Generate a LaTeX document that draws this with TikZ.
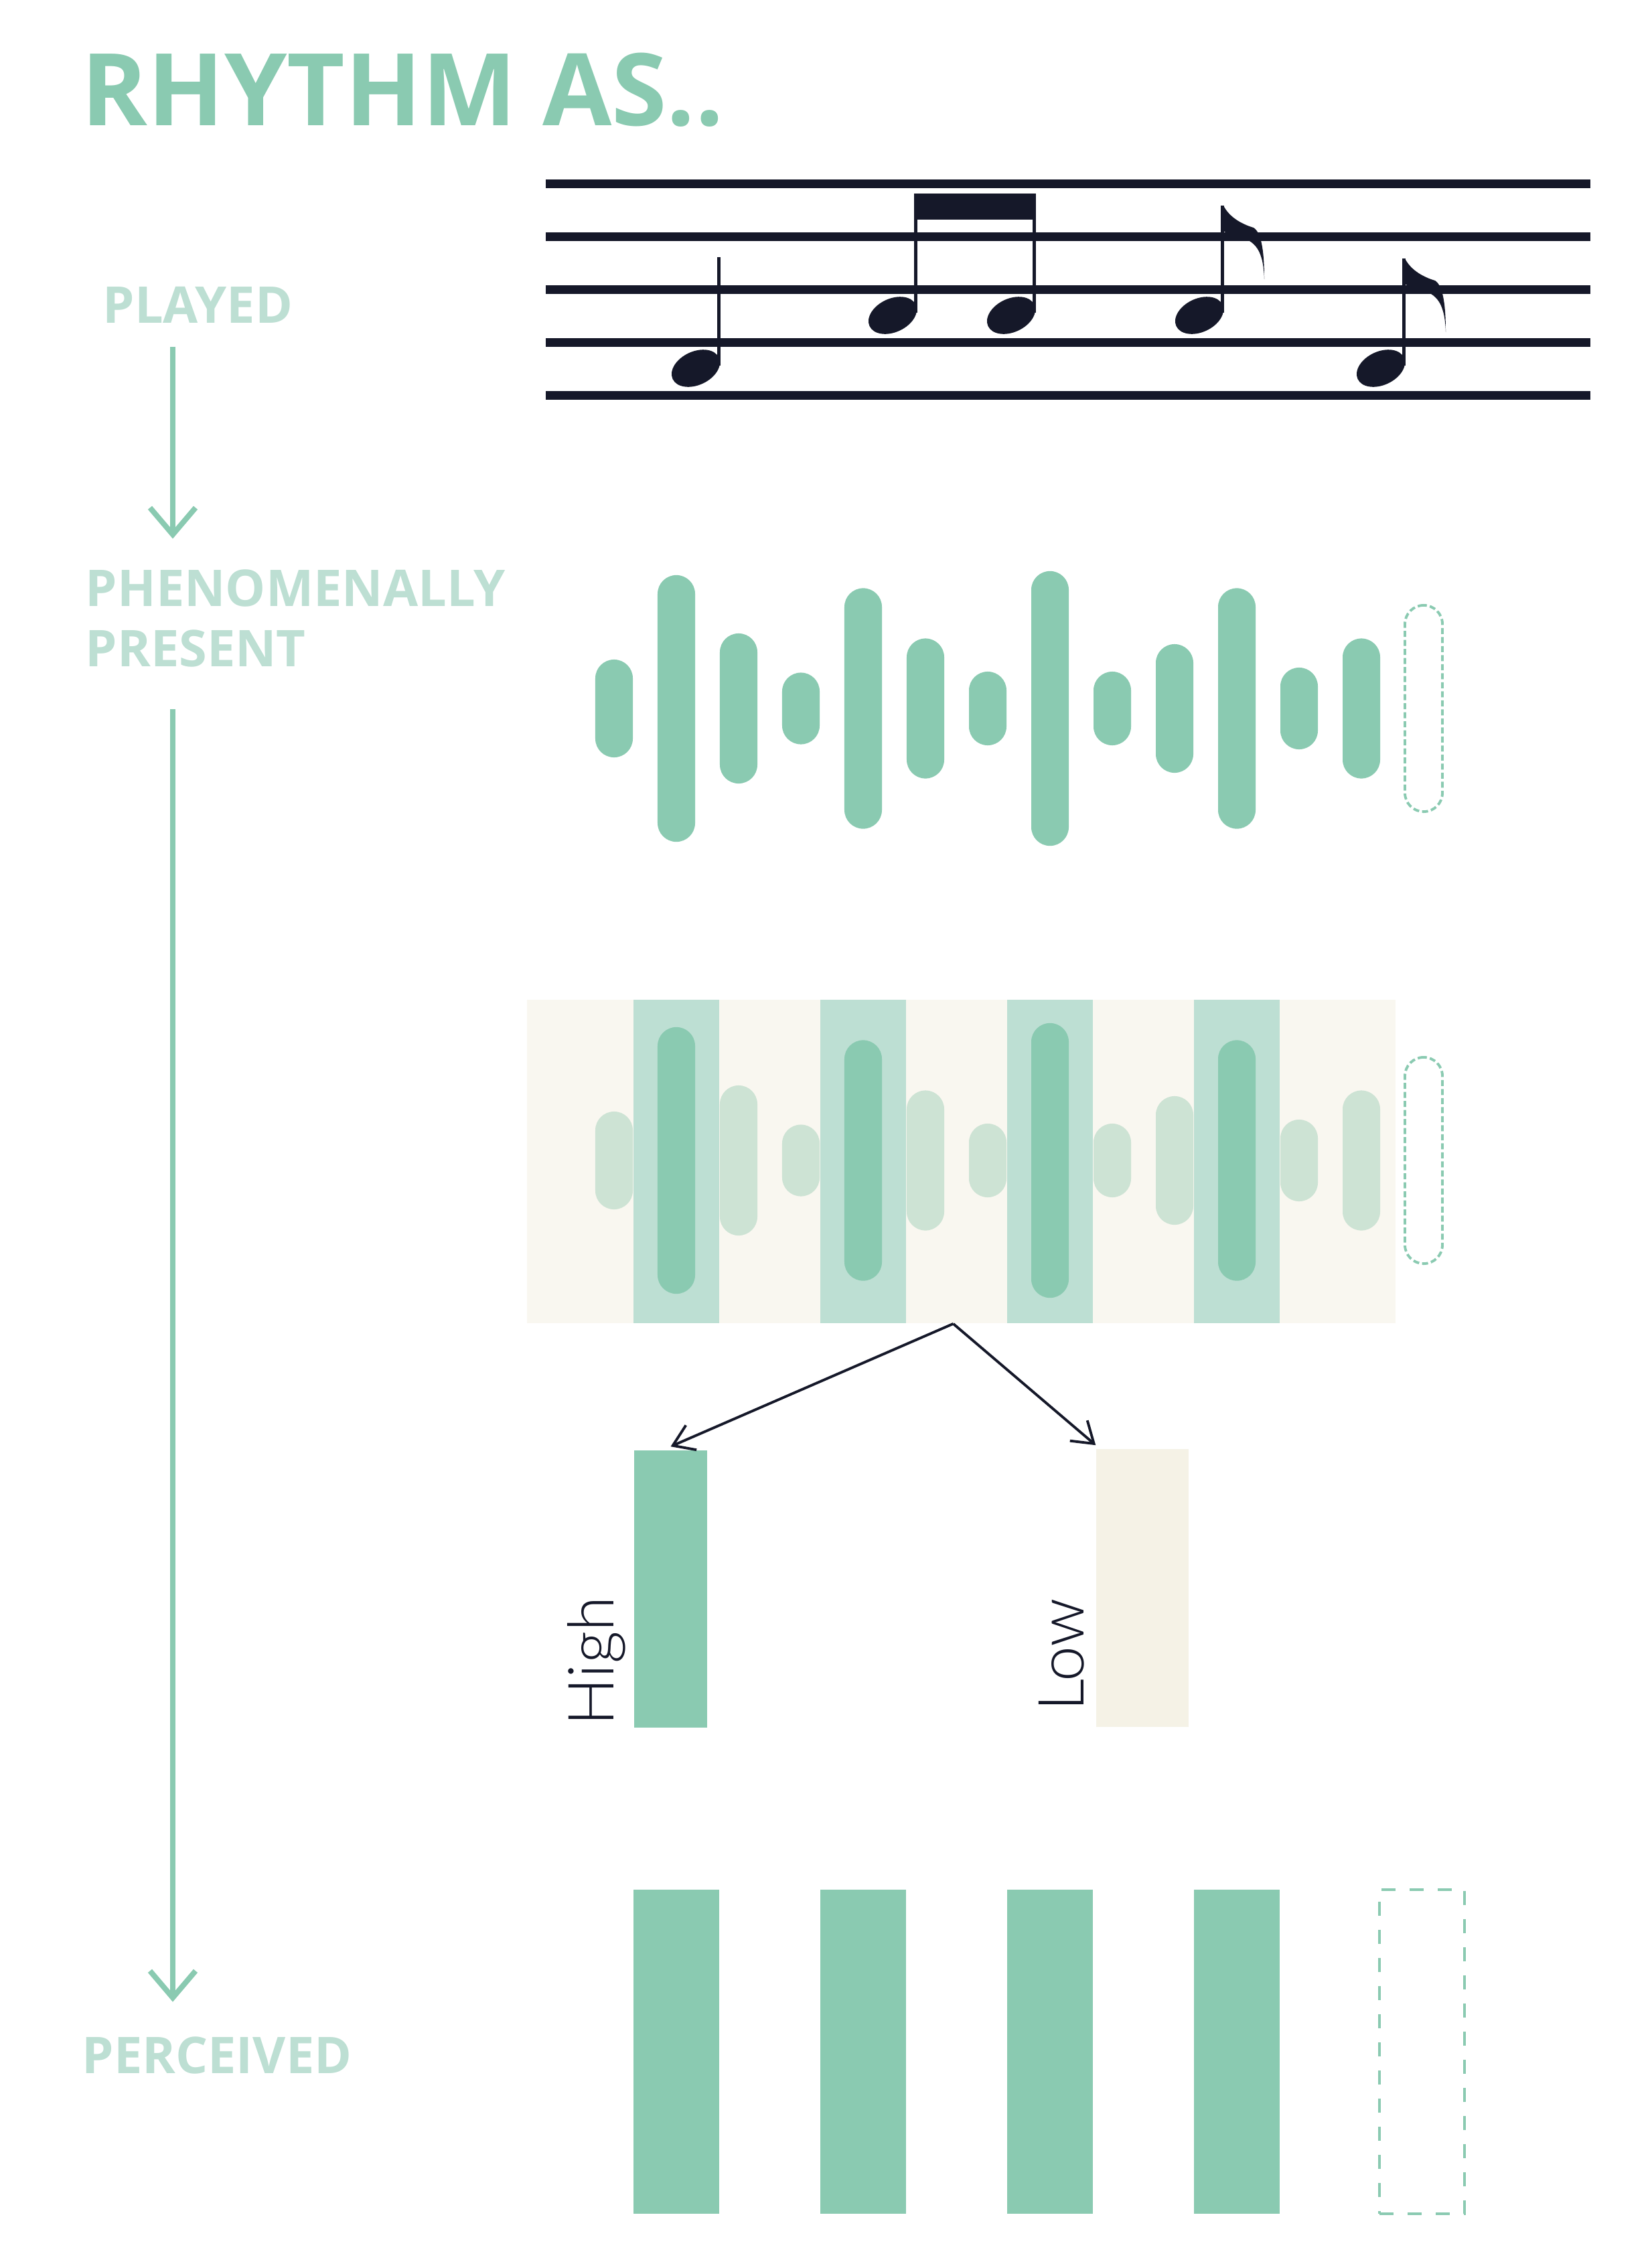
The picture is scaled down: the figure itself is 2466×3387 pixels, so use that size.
\documentclass[tikz,border=0pt]{standalone}
\usepackage{fontspec}
\setmainfont{Open Sans}
\IfFontExistsTF{Lato Light}{\newfontfamily\thinfont{Lato Light}}{\newfontfamily\thinfont{Lato}}
\usetikzlibrary{positioning,arrows.meta,calc,shapes.geometric}
\definecolor{mint}{HTML}{8ACAB1}
\definecolor{mintlt}{HTML}{BDDFD3}
\definecolor{mintpale}{HTML}{CDE3D4}
\definecolor{cream}{HTML}{F9F7F0}
\definecolor{creamdk}{HTML}{F5F2E6}
\definecolor{ink}{HTML}{151829}
\tikzset{noteflag/.pic={\fill[ink] (0,0) .. controls (8,16) and (25,27) .. (45,33)
 .. controls (56,40) and (61,65) .. (61,110) .. controls (60,80) and (54,62) .. (39,53)
 .. controls (25,48) and (10,45) .. (0,38) -- cycle;}}
\begin{document}
\begin{tikzpicture}[x=0.01cm,y=-0.01cm,
head/.style={font=\fontsize{42.6}{50}\selectfont\bfseries,text=mint,inner sep=0pt,anchor=base west},
tag/.style={font=\fontsize{21.5}{26}\selectfont\bfseries,text=mintlt,inner sep=0pt,anchor=base west},
flow/.style={draw=mint,line width=2.3pt,-{Straight Barb[length=0.4cm,width=0.68cm]}},
pick/.style={draw=ink,line width=1.1pt,-{Straight Barb[length=0.3cm,width=0.4cm]}},
wavebar/.style={fill=mint,minimum width=0.56cm,rounded corners=0.28cm,inner sep=0pt},
barlt/.style={wavebar,fill=mintpale},
ghost/.style={draw=mint,dash pattern=on 0.09cm off 0.045cm,line width=1.1pt,minimum width=0.56cm,rounded corners=0.28cm,inner sep=0pt},
col/.style={fill=mintlt,minimum width=1.27cm,minimum height=4.83cm,inner sep=0pt},
block/.style={minimum width=1.27cm,minimum height=4.84cm,inner sep=0pt},
word/.style={font=\thinfont\fontsize{27}{30}\selectfont,text=ink,inner sep=0pt,rotate=90,anchor=base west},
notehead/.style={ellipse,fill=ink,minimum width=0.76cm,minimum height=0.5cm,inner sep=0pt,rotate=25},
staff/.style={ink,line width=0.13cm},
stem/.style={ink,line width=0.05cm}]
\useasboundingbox (0,0) rectangle (2466,3387);

\node[head] (title) at (121,187) {RHYTHM AS..};
\node[tag] (played) at (153,482) {PLAYED};
\node[tag] (phen) at (127,905) {PHENOMENALLY};
\node[tag] (present) at (127,995) {PRESENT};
\node[tag] (perceived) at (122,3096) {PERCEIVED};
\coordinate (axis) at (258,0);
\draw[flow] ($(played.south -| axis)+(0,35)$) -- ($(phen.north -| axis)+(0,-45)$);
\draw[flow] ($(present.south -| axis)+(0,63)$) -- ($(perceived.north -| axis)+(0,-51)$);

\foreach \k in {0,...,4}
 \draw[staff] (815,274+79*\k) -- (2375,274+79*\k);
\foreach \x/\y/\t [count=\n] in {1039/550/384,1333/471/289,1510/471/289,1791/471/307,2062/550/386}
 {\node[notehead] (n\n) at (\x,\y) {};
 \draw[stem] (\x+34,\y-4) -- (\x+34,\t);}
\fill[ink] (1365,289) rectangle (1547,328);
\path (1827,307) pic {noteflag} (2098,386) pic {noteflag};

\foreach \h [count=\i] in {73,199,112,53.5,179.5,104.5,55,205,55,96,179.5,61,104.5}
 \node[wavebar,minimum height=\h*0.02cm] (w\i) at (917+93*\i-93,1058) {};
\node[ghost,minimum height=3.08cm] (w14) at (2126,1058) {};

\node[fill=cream,minimum width=12.97cm,minimum height=4.83cm,inner sep=0pt] (band) at (1435.5,1734.5) {};
\foreach \i in {2,5,8,11}
 \node[col] (c\i) at (917+93*\i-93,1734.5) {};
\foreach \h/\s [count=\i] in {73/barlt,199/wavebar,112/barlt,53.5/barlt,179.5/wavebar,104.5/barlt,55/barlt,205/wavebar,55/barlt,96/barlt,179.5/wavebar,61/barlt,104.5/barlt}
 \node[\s,minimum height=\h*0.02cm] (p\i) at (917+93*\i-93,1733) {};
\node[ghost,minimum height=3.08cm] (p14) at (2126,1733) {};

\coordinate (split) at ([xshift=-0.12cm]band.south);
\node[block,fill=mint,minimum width=1.09cm,minimum height=4.14cm] (high) at (1001.5,2373) {};
\node[block,fill=creamdk,minimum width=1.38cm,minimum height=4.15cm] (low) at (1706,2371.5) {};
\draw[pick] (split) -- ([yshift=0.05cm]high.north);
\draw[pick] (split) -- ([yshift=0.05cm]low.north west);
\node[word] (hightxt) at ($(high.south west)+(-30,-3)$) {High};
\node[word] (lowtxt) at ($(low.south west)+(-18,-24)$) {Low};

\foreach \i in {2,5,8,11}
 \node[block,fill=mint] (b\i) at (917+93*\i-93,3064) {};
\node[block,draw=mint,dash pattern=on 0.21cm off 0.21cm,line width=1.2pt] (b14) at (2123.5,3064) {};
\end{tikzpicture}
\end{document}
